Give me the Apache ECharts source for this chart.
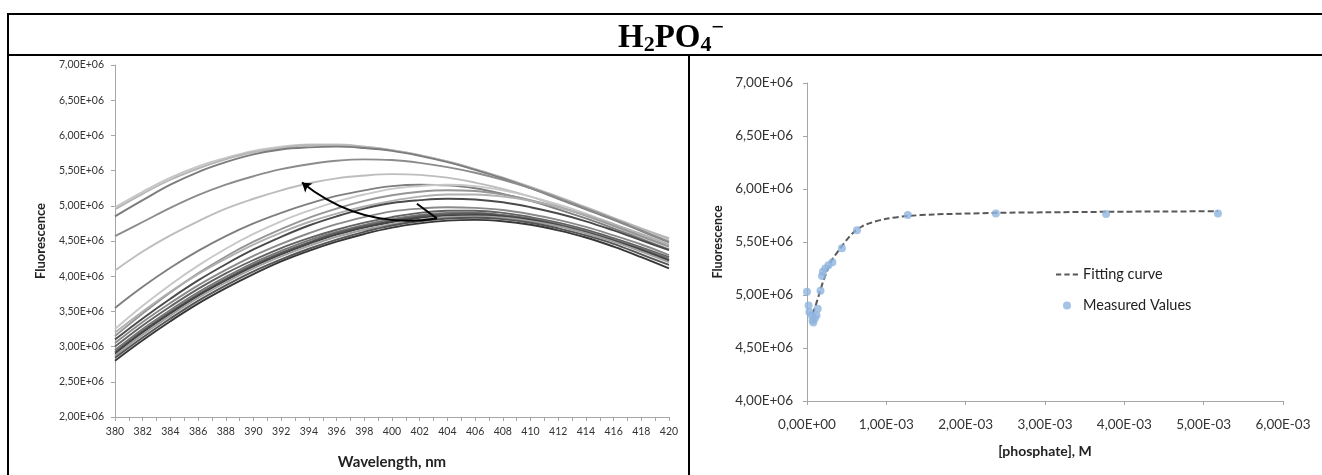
<!DOCTYPE html>
<html>
<head>
<meta charset="utf-8">
<script src="https://cdn.jsdelivr.net/npm/echarts@6/dist/echarts.min.js"></script>
<style>
html,body{margin:0;padding:0;background:#fff;}
#wrap{position:relative;width:1322px;height:475px;overflow:hidden;background:#fff;}
#chart{position:absolute;left:0;top:0;width:1322px;height:475px;}
#title{position:absolute;left:371px;width:600px;top:16px;height:41px;line-height:41px;text-align:center;font-family:'Liberation Serif','Times New Roman',serif;font-weight:bold;font-size:33px;color:#000;z-index:5;}
#title .sb{font-size:22px;vertical-align:-4px;line-height:0;}
#title .sp{font-size:22px;vertical-align:13px;line-height:0;}
</style>
</head>
<body>
<div id="wrap">
  <div id="chart"></div>
  <div id="title">H<span class="sb">2</span>PO<span class="sb">4</span><span class="sp">−</span></div>
</div>
<script>
// ---------- DATA ----------
// Left panel: emission spectra, wavelength (nm) vs fluorescence (units of 10^6)
const wavelengths = [380,382,384,386,388,390,392,394,396,398,400,402,404,406,408,410,412,414,416,418,420];
const specA = [4.98,5.20,5.40,5.56,5.68,5.78,5.84,5.87,5.87,5.84,5.79,5.72,5.63,5.52,5.40,5.26,5.12,4.97,4.82,4.67,4.52];
const specB = [4.95,5.17,5.37,5.53,5.66,5.76,5.82,5.86,5.86,5.84,5.79,5.72,5.63,5.52,5.40,5.27,5.13,4.98,4.83,4.68,4.54];
const specC = [4.85,5.08,5.30,5.48,5.62,5.73,5.80,5.83,5.84,5.82,5.78,5.71,5.62,5.51,5.39,5.25,5.10,4.95,4.80,4.64,4.48];
const specD = [4.57,4.77,4.97,5.15,5.30,5.42,5.52,5.59,5.64,5.66,5.65,5.61,5.55,5.47,5.37,5.25,5.11,4.96,4.81,4.65,4.49];
const specE = [4.08,4.35,4.58,4.78,4.96,5.10,5.22,5.32,5.39,5.43,5.45,5.44,5.40,5.33,5.24,5.13,5.00,4.86,4.71,4.56,4.42];
const specF = [3.55,3.85,4.12,4.36,4.57,4.75,4.90,5.03,5.14,5.22,5.28,5.30,5.29,5.25,5.17,5.07,4.95,4.82,4.68,4.53,4.38];
const specG = [3.25,3.58,3.88,4.15,4.39,4.60,4.78,4.93,5.06,5.16,5.24,5.28,5.30,5.28,5.22,5.13,5.02,4.89,4.74,4.59,4.43];
const specH = [3.15,3.47,3.77,4.04,4.28,4.49,4.67,4.83,4.96,5.07,5.15,5.20,5.22,5.21,5.16,5.08,4.98,4.86,4.72,4.57,4.42];
const specP = [3.20,3.50,3.78,4.03,4.25,4.45,4.62,4.77,4.89,4.99,5.07,5.13,5.16,5.16,5.13,5.07,4.98,4.87,4.74,4.60,4.45];
const specI = [3.10,3.40,3.68,3.94,4.17,4.38,4.56,4.72,4.85,4.96,5.04,5.08,5.10,5.09,5.05,4.98,4.89,4.78,4.65,4.51,4.37];
const specQ = [3.05,3.35,3.62,3.87,4.09,4.29,4.46,4.61,4.74,4.84,4.92,4.96,4.98,4.97,4.94,4.88,4.80,4.70,4.58,4.45,4.30];
const specJ = [3.00,3.30,3.57,3.82,4.04,4.23,4.40,4.54,4.66,4.76,4.84,4.90,4.93,4.93,4.90,4.84,4.76,4.66,4.54,4.41,4.27];
const specK = [2.95,3.25,3.52,3.77,3.99,4.19,4.36,4.51,4.63,4.73,4.81,4.87,4.90,4.90,4.87,4.82,4.74,4.64,4.52,4.39,4.25];
const specR = [2.92,3.22,3.49,3.74,3.96,4.16,4.33,4.48,4.61,4.71,4.79,4.85,4.88,4.89,4.86,4.81,4.73,4.63,4.51,4.38,4.23];
const specL = [2.90,3.20,3.47,3.72,3.94,4.14,4.31,4.46,4.59,4.69,4.77,4.83,4.86,4.87,4.85,4.80,4.72,4.62,4.50,4.37,4.22];
const specM = [2.87,3.17,3.44,3.69,3.91,4.11,4.28,4.43,4.56,4.66,4.74,4.80,4.84,4.85,4.83,4.78,4.71,4.61,4.49,4.35,4.20];
const specN = [2.84,3.13,3.40,3.65,3.87,4.07,4.24,4.39,4.52,4.63,4.72,4.78,4.82,4.83,4.81,4.76,4.68,4.58,4.46,4.31,4.16];
const specO = [2.80,3.09,3.36,3.61,3.83,4.03,4.21,4.36,4.49,4.60,4.69,4.75,4.79,4.80,4.78,4.73,4.65,4.55,4.42,4.27,4.11];

// Arrow annotation (data coordinates: wavelength, fluorescence x10^6)
const arrowTail   = [401.8, 5.03];
const arrowCorner = [403.25, 4.82];
const arrowTip    = [393.5, 5.33];

// Right panel: titration, [phosphate] (M) vs fluorescence (units of 10^6)
const phosphateConc = [0,0.00002,0.00003,0.00006,0.00007,0.00008,0.0001,0.00012,0.000135,0.00017,0.00019,0.0002,0.00023,0.00027,0.00032,0.00044,0.00063,0.00127,0.00238,0.00377,0.00518];
const measuredFluor = [5.03,4.90,4.84,4.81,4.76,4.74,4.78,4.81,4.87,5.04,5.18,5.22,5.25,5.28,5.31,5.44,5.61,5.755,5.77,5.765,5.77];
const fitConc  = [0.00007,0.0001,0.00015,0.0002,0.00025,0.0003,0.00035,0.0004,0.0005,0.0006,0.0007,0.0008,0.001,0.00127,0.0016,0.002,0.0024,0.003,0.0038,0.0045,0.00518];
const fitFluor = [4.82,4.88,5.00,5.12,5.22,5.31,5.37,5.42,5.52,5.60,5.65,5.68,5.72,5.745,5.76,5.768,5.775,5.78,5.785,5.788,5.79];

// ---------- STYLE ----------
const spectra = [specA,specB,specC,specD,specE,specF,specG,specH,specP,specI,specQ,specJ,specK,specR,specL,specM,specN,specO];
const specColors = ['#c6c6c6','#b6b6b6','#7c7c7c','#8c8c8c','#bdbdbd','#7f7f7f','#c8c8c8','#969696','#b0b0b0','#4a4a4a','#8a8a8a','#626262','#777777','#5a5a5a','#444444','#a0a0a0','#555555','#383838'];

const FONT = 'Lato, "Open Sans", sans-serif';
const fmtE6 = v => v.toFixed(2).replace('.', ',') + 'E+06';
const fmtConc = v => (Math.abs(v) < 1e-12) ? '0,00E+00' : (v * 1000).toFixed(2).replace('.', ',') + 'E-03';
const axisGray = '#a6a6a6';
const dashIcon = 'path://M0,0h5v2h-5z M8,0h5v2h-5z M16,0h5v2h-5z';

const chart = echarts.init(document.getElementById('chart'), null, {renderer: 'canvas'});

const series = spectra.map((s, i) => ({
  type: 'line',
  xAxisIndex: 0, yAxisIndex: 0,
  data: wavelengths.map((w, j) => [w, s[j]]),
  symbol: 'none', showSymbol: false,
  smooth: 0.4,
  silent: true,
  lineStyle: {color: specColors[i], width: 1.9},
  z: 2
}));

series.push({
  type: 'lines', coordinateSystem: 'cartesian2d', xAxisIndex: 0, yAxisIndex: 0,
  symbol: ['none', 'arrow'], symbolSize: 9,
  lineStyle: {color: '#000', width: 2, curveness: 0.22, opacity: 1},
  data: [{coords: [arrowCorner, arrowTip]}],
  silent: true, z: 5
});
series.push({
  type: 'lines', coordinateSystem: 'cartesian2d', xAxisIndex: 0, yAxisIndex: 0,
  symbol: ['none', 'none'],
  lineStyle: {color: '#000', width: 2, curveness: 0, opacity: 1},
  data: [{coords: [arrowTail, arrowCorner]}],
  silent: true, z: 5
});

series.push({
  type: 'line', name: 'Fitting curve',
  xAxisIndex: 1, yAxisIndex: 1,
  data: fitConc.map((c, i) => [c, fitFluor[i]]),
  symbol: 'none', showSymbol: false, smooth: 0.3,
  lineStyle: {color: '#595959', width: 2, type: [6, 3]},
  itemStyle: {color: '#595959'},
  z: 2
});
series.push({
  type: 'scatter', name: 'Measured Values',
  xAxisIndex: 1, yAxisIndex: 1,
  data: phosphateConc.map((c, i) => [c, measuredFluor[i]]),
  symbol: 'circle', symbolSize: 8,
  itemStyle: {color: '#8fb4df'},
  z: 3
});

const commonAxisLine = {show: true, lineStyle: {color: axisGray, width: 1}};
const commonTick = {show: true, length: 4, lineStyle: {color: axisGray}};

chart.setOption({
  animation: false,
  backgroundColor: '#fff',
  textStyle: {fontFamily: FONT},
  grid: [
    {left: 115, top: 65, width: 554, height: 356, containLabel: false},
    {left: 807, top: 83, width: 476, height: 318, containLabel: false}
  ],
  xAxis: [
    {
      type: 'value', gridIndex: 0, min: 380, max: 420, interval: 2,
      name: 'Wavelength, nm', nameLocation: 'middle', nameGap: 38,
      nameTextStyle: {fontFamily: FONT, fontWeight: 'bold', fontSize: 15, color: '#222'},
      axisLine: commonAxisLine, axisTick: commonTick,
      minorTick: {show: true, splitNumber: 2, length: 4, lineStyle: {color: axisGray}},
      splitLine: {show: false},
      axisLabel: {fontFamily: FONT, fontSize: 10.5, color: '#333', margin: 9}
    },
    {
      type: 'value', gridIndex: 1, min: 0, max: 0.006, interval: 0.001,
      name: '[phosphate], M', nameLocation: 'middle', nameGap: 43,
      nameTextStyle: {fontFamily: FONT, fontWeight: 'bold', fontSize: 14, color: '#222'},
      axisLine: commonAxisLine, axisTick: commonTick,
      splitLine: {show: false},
      axisLabel: {fontFamily: FONT, fontSize: 13.5, color: '#333', margin: 17, formatter: fmtConc}
    }
  ],
  yAxis: [
    {
      type: 'value', gridIndex: 0, min: 2, max: 7, interval: 0.5,
      name: 'Fluorescence', nameLocation: 'middle', nameGap: 68, nameRotate: 90,
      nameTextStyle: {fontFamily: FONT, fontWeight: 'bold', fontSize: 13, color: '#222'},
      axisLine: commonAxisLine, axisTick: commonTick,
      splitLine: {show: false},
      axisLabel: {fontFamily: FONT, fontSize: 10.5, color: '#333', margin: 11, formatter: fmtE6}
    },
    {
      type: 'value', gridIndex: 1, min: 4, max: 7, interval: 0.5,
      name: 'Fluorescence', nameLocation: 'middle', nameGap: 83, nameRotate: 90,
      nameTextStyle: {fontFamily: FONT, fontWeight: 'bold', fontSize: 12.5, color: '#222'},
      axisLine: commonAxisLine, axisTick: commonTick,
      splitLine: {show: false},
      axisLabel: {fontFamily: FONT, fontSize: 13.5, color: '#333', margin: 14, formatter: fmtE6}
    }
  ],
  legend: {
    data: [
      {name: 'Fitting curve', icon: dashIcon, itemStyle: {color: '#595959'}},
      {name: 'Measured Values', icon: 'circle'}
    ],
    orient: 'vertical', left: 1051, top: 262,
    itemWidth: 22, itemHeight: 8, itemGap: 16,
    selectedMode: false,
    textStyle: {fontFamily: FONT, fontSize: 14.5, color: '#222'}
  },
  graphic: [
    {type: 'rect', shape: {x: 7, y: 13, width: 1315, height: 2}, style: {fill: '#000'}, silent: true, z: 100},
    {type: 'rect', shape: {x: 7, y: 54, width: 1315, height: 2}, style: {fill: '#000'}, silent: true, z: 100},
    {type: 'rect', shape: {x: 7, y: 13, width: 2, height: 462}, style: {fill: '#000'}, silent: true, z: 100},
    {type: 'rect', shape: {x: 688, y: 55, width: 2, height: 420}, style: {fill: '#000'}, silent: true, z: 100}
  ],
  series: series
});
</script>
</body>
</html>
